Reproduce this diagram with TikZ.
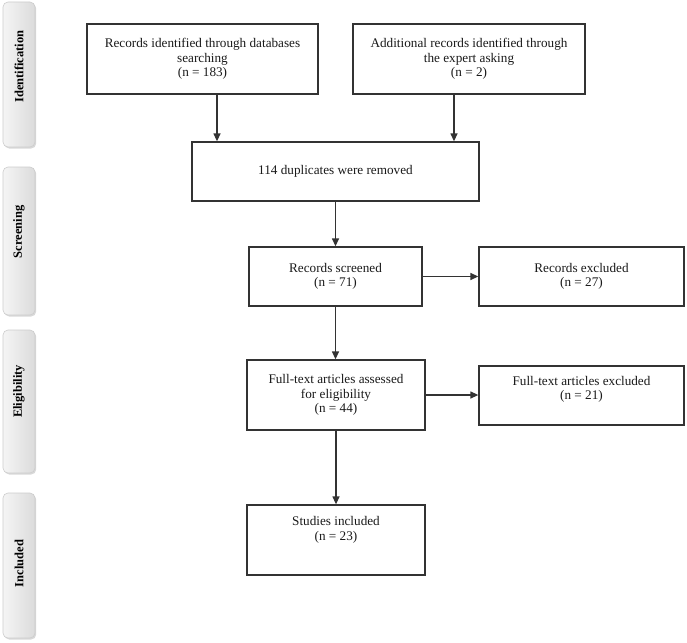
\documentclass[tikz,border=0pt]{standalone}
\usepackage{fontspec}
\setmainfont{Liberation Serif}
\usetikzlibrary{arrows.meta,shadows,calc}
\definecolor{linec}{HTML}{333333}
\definecolor{textc}{HTML}{1A1A1A}
\begin{document}
\begin{tikzpicture}[x=1pt,y=-1pt,
  box/.style={draw=linec, line width=1.3pt, fill=white, align=center, inner sep=2pt,
    font=\fontsize{13.2}{14.5}\selectfont, text=textc},
  arr/.style={draw=linec, line width=1.3pt, -{Triangle[width=7pt,length=8pt]}},
  stage/.style={rounded corners=5pt, draw=gray!40, line width=0.6pt,
    left color=gray!8, right color=gray!28, minimum width=32pt,
    drop shadow={shadow xshift=1.2pt, shadow yshift=-1.5pt, fill=gray!60, opacity=0.5},
    font=\bfseries\fontsize{12.5}{14}\selectfont, text=black, inner sep=0pt}
]
\useasboundingbox (0,0) rectangle (687,642);

% stage labels
\node[stage, minimum height=145pt] (sid) at (19,74.5) {\rotatebox{90}{\hspace{16pt}Identification}};
\node[stage, minimum height=148pt] (sscr) at (19,241) {\rotatebox{90}{\hspace{18pt}Screening}};
\node[stage, minimum height=143pt] (self) at (19,401.5) {\rotatebox{90}{\hspace{20pt}Eligibility}};
\node[stage, minimum height=145pt] (sinc) at (19,565.5) {\rotatebox{90}{\hspace{4pt}Included}};

% boxes
\node[box, minimum width=231pt, minimum height=70pt] (id1) at (202.5,59)
  {Records identified through databases\\searching\\(n = 183)};
\node[box, minimum width=232pt, minimum height=70pt] (id2) at (469,59)
  {Additional records identified through\\the expert asking\\(n = 2)};
\node[box, minimum width=287pt, minimum height=59pt] (dup) at (335.5,171.5)
  {114 duplicates were removed};
\node[box, minimum width=173pt, minimum height=59pt] (scr) at (335.5,276.5)
  {Records screened\\(n = 71)};
\node[box, minimum width=205pt, minimum height=59pt] (exc1) at (581.5,276.5)
  {Records excluded\\(n = 27)};
\node[box, minimum width=178pt, minimum height=70pt] (full) at (336,395)
  {Full-text articles assessed\\for eligibility\\(n = 44)};
\node[box, minimum width=205pt, minimum height=59pt] (exc2) at (581.5,395.5)
  {Full-text articles excluded\\(n = 21)\\[-4pt]\strut};
\node[box, minimum width=178pt, minimum height=70pt] (stud) at (336,540)
  {Studies included\\(n = 23)\\[4pt]\strut};

% connectors
\draw[arr] ([xshift=14.5pt]id1.south) -- ([xshift=14.5pt]id1.south |- dup.north);
\draw[arr] ([xshift=-15pt]id2.south) -- ([xshift=-15pt]id2.south |- dup.north);
\draw[arr] (dup.south) -- (dup.south |- scr.north);
\draw[arr] (scr.east) -- (scr.east -| exc1.west);
\draw[arr] (scr.south) -- (scr.south |- full.north);
\draw[arr] (full.east) -- (full.east -| exc2.west);
\draw[arr] (full.south) -- (full.south |- stud.north);
\end{tikzpicture}
\end{document}
